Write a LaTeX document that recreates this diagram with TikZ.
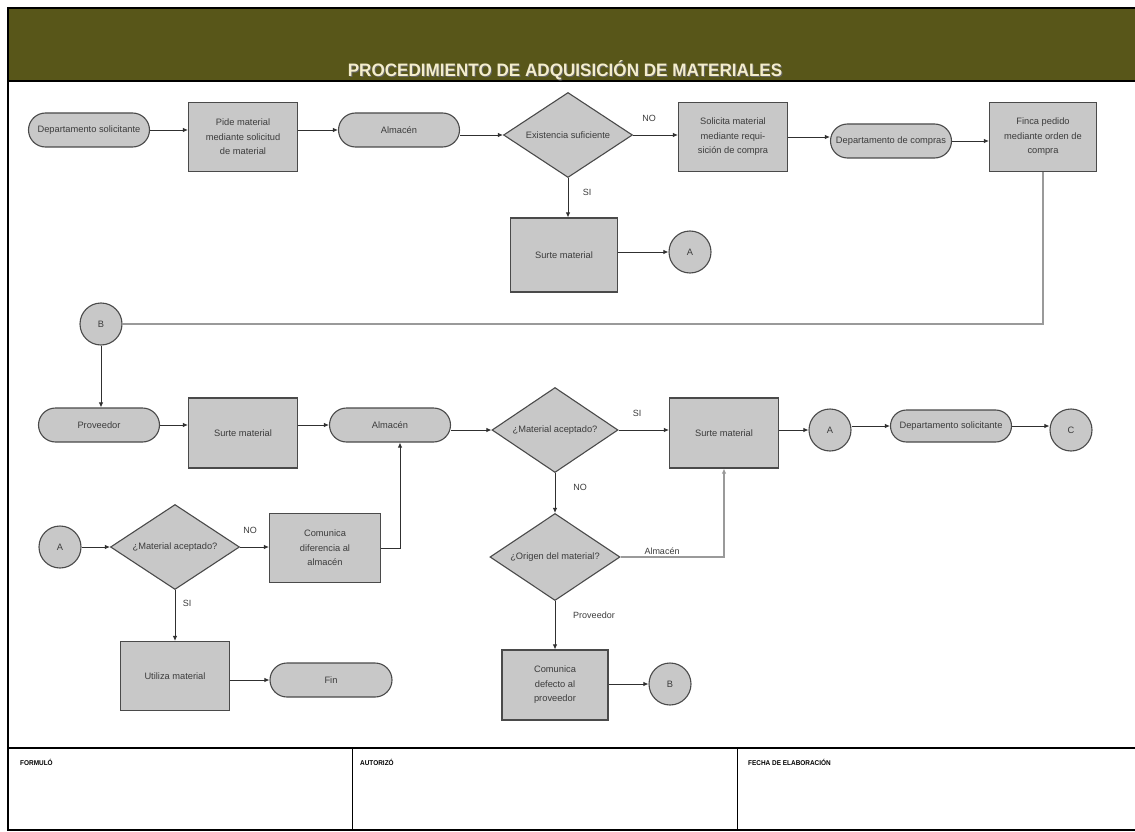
\documentclass[tikz,border=0pt]{standalone}
\usepackage{fontspec}
\setmainfont{Liberation Sans}
\usetikzlibrary{shapes.geometric,shapes.misc,arrows.meta}
\definecolor{headband}{HTML}{585619}
\definecolor{titletext}{HTML}{F4EDCB}
\definecolor{boxfill}{HTML}{C8C8C8}
\definecolor{boxline}{HTML}{4A4A4A}
\definecolor{txt}{HTML}{3C3C3C}
\definecolor{linec}{HTML}{303030}
\definecolor{softline}{HTML}{9A9A9A}
\tikzset{
  shapetext/.style={font=\fontsize{9.3}{14.5}\selectfont, text=txt, align=center, inner sep=0pt},
  procbox/.style={shapetext, rectangle, draw=boxline, fill=boxfill, line width=1.1pt,
                  minimum width=109pt, minimum height=69pt},
  termbox/.style={shapetext, rounded rectangle, draw=boxline, fill=boxfill, line width=1.1pt,
                  minimum width=121pt, minimum height=34pt},
  decibox/.style={shapetext, diamond, aspect=1.6, draw=boxline, fill=boxfill, line width=1.1pt,
                  minimum width=129pt, minimum height=85pt},
  linkbox/.style={shapetext, circle, draw=boxline, fill=boxfill, line width=1.1pt,
                  minimum size=42pt},
  arr/.style={draw=linec, line width=0.9pt, -{Latex[length=5pt,width=4.5pt]}},
  softarr/.style={draw=softline, line width=2pt, -{Latex[length=5pt,width=4.5pt]}},
  softplain/.style={draw=softline, line width=2pt},
  branch/.style={font=\fontsize{9}{10}\selectfont, text=txt, inner sep=0pt},
  foot/.style={font=\fontsize{7}{8}\bfseries\selectfont, text=black, anchor=west, inner sep=0pt, xscale=0.92},
  titlefont/.style={font=\fontsize{18}{18}\bfseries\selectfont, xscale=0.95},
}
\begin{document}
\begin{tikzpicture}[x=1pt,y=-1pt]
\useasboundingbox (0,0) rectangle (1135,832);
\fill[white] (0,0) rectangle (1135,832);

% sheet frame and header band
\fill[headband] (8,8) rectangle (1137,81);
\draw[line width=1.4pt] (8,8) rectangle (1137,830);
\draw[line width=1.6pt] (8,81) -- (1137,81);
\node[titlefont, text=black!60] at (566,71.5) {PROCEDIMIENTO DE ADQUISICIÓN DE MATERIALES};
\node[titlefont, text=titletext] (title) at (565,70) {PROCEDIMIENTO DE ADQUISICIÓN DE MATERIALES};

% signature strip
\draw[line width=1.2pt] (8,748) -- (1137,748);
\draw[line width=0.9pt] (352,748) -- (352,830);
\draw[line width=0.9pt] (737,748) -- (737,830);
\node[foot] (formulo) at (20,762) {FORMULÓ};
\node[foot] (autorizo) at (360,762) {AUTORIZÓ};
\node[foot] (fecha) at (748,762) {FECHA DE ELABORACIÓN};

% first row: request and purchase order
\node[termbox] (dep1) at (89,130) {Departamento solicitante};
\node[procbox] (pide) at (243,137) {Pide material\\mediante solicitud\\de material};
\node[termbox] (alm1) at (399,130) {Almacén};
\node[decibox] (exist) at (568,135) {Existencia suficiente};
\node[procbox] (solic) at (733,137) {Solicita material\\mediante requi-\\sición de compra};
\node[termbox] (compras) at (891,141) {Departamento de compras};
\node[procbox, minimum width=107pt] (finca) at (1043,137) {Finca pedido\\mediante orden de\\compra};
\node[procbox, minimum width=107pt, minimum height=74pt] (surte1) at (564,255) {Surte material};
\node[linkbox] (a1) at (690,252) {A};
\node[linkbox] (b1) at (101,324) {B};

\draw[arr] (dep1.east) -- (dep1.east -| pide.west);
\draw[arr] (pide.east |- alm1.west) -- (alm1.west);
\draw[arr] (alm1.east |- exist.west) -- (exist.west);
\draw[arr] (exist.east) -- (exist.east -| solic.west);
\draw[arr] (solic.east) -- (solic.east -| compras.west);
\draw[arr] (compras.east) -- (compras.east -| finca.west);
\draw[arr] (exist.south) -- (exist.south |- surte1.north);
\draw[arr] (surte1.east |- a1.west) -- (a1.west);
\draw[softplain] (finca.south) |- (b1.east);
\node[branch] (no1) at (649,118) {NO};
\node[branch] (si1) at (587,192) {SI};

% second row: supplier delivery and inspection
\node[termbox] (prov) at (99,425) {Proveedor};
\node[procbox, minimum height=70pt] (surte2) at (243,433) {Surte material};
\node[termbox] (alm2) at (390,425) {Almacén};
\node[decibox, minimum width=126pt] (acept) at (555,430) {¿Material aceptado?};
\node[procbox, minimum height=70pt] (surte3) at (724,433) {Surte material};
\node[linkbox] (a2) at (830,430) {A};
\node[termbox, minimum height=32pt] (dep2) at (951,426) {Departamento solicitante};
\node[linkbox] (c1) at (1071,430) {C};

\draw[arr] (b1.south) -- (b1.south |- prov.north);
\draw[arr] (prov.east) -- (prov.east -| surte2.west);
\draw[arr] (surte2.east |- alm2.west) -- (alm2.west);
\draw[arr] (alm2.east |- acept.west) -- (acept.west);
\draw[arr] (acept.east) -- (acept.east -| surte3.west);
\draw[arr] (surte3.east |- a2.west) -- (a2.west);
\draw[arr] (a2.east |- dep2.west) -- (dep2.west);
\draw[arr] (dep2.east) -- (dep2.east -| c1.west);
\node[branch] (si2) at (637,413) {SI};
\node[branch] (no2) at (580,487) {NO};

% origin of a rejected material
\node[decibox, minimum width=130pt, minimum height=87pt] (origen) at (555,557) {¿Origen del material?};
\node[procbox, minimum width=106pt, minimum height=70pt] (defecto) at (555,685) {Comunica\\defecto al\\proveedor};
\node[linkbox] (b2) at (670,684) {B};

\draw[arr] (acept.south) -- (origen.north);
\draw[softarr] (origen.east) -| (surte3.south);
\draw[arr] (origen.south) -- (defecto.north);
\draw[arr] (defecto.east |- b2.west) -- (b2.west);
\node[branch] (almlbl) at (662,551) {Almacén};
\node[branch] (provlbl) at (594,615) {Proveedor};

% third row: reception by the requesting department
\node[linkbox] (a3) at (60,547) {A};
\node[decibox] (acept2) at (175,547) {¿Material aceptado?};
\node[procbox, minimum width=111pt] (difer) at (325,548) {Comunica\\diferencia al\\almacén};
\node[procbox] (utiliza) at (175,676) {Utiliza material};
\node[termbox, minimum width=122pt] (fin) at (331,680) {Fin};

\draw[arr] (a3.east) -- (acept2.west);
\draw[arr] (acept2.east) -- (acept2.east -| difer.west);
\draw[arr] (difer.east) -| ([xshift=10pt]alm2.south);
\draw[arr] (acept2.south) -- (acept2.south |- utiliza.north);
\draw[arr] (utiliza.east |- fin.west) -- (fin.west);
\node[branch] (no3) at (250,530) {NO};
\node[branch] (si3) at (187,603) {SI};
\end{tikzpicture}
\end{document}
